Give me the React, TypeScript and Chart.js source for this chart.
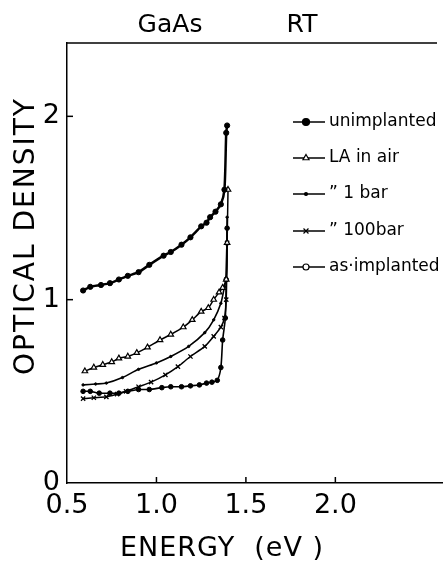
import React, { useEffect, useRef } from "react";
import { Chart, registerables } from "chart.js";
import { drawPoint } from "chart.js/helpers";

Chart.register(...registerables);

const FONT = '"DejaVu Sans", "Liberation Sans", sans-serif';

const xTickValues = [0.5, 1.0, 1.5, 2.0];
const yTickValues = [0, 1, 2];

const seriesLabels = ["unimplanted", "LA in air", "\u201D 1 bar", "\u201D 100bar", "as\u00B7implanted"];

const unimplantedX = [0.59, 0.63, 0.69, 0.74, 0.79, 0.84, 0.9, 0.96, 1.04, 1.08, 1.14, 1.19, 1.25, 1.28, 1.3, 1.33, 1.36, 1.38, 1.39, 1.395];
const unimplantedY = [1.05, 1.07, 1.08, 1.09, 1.11, 1.13, 1.15, 1.19, 1.24, 1.26, 1.3, 1.34, 1.4, 1.42, 1.45, 1.48, 1.52, 1.6, 1.91, 1.95];

const laAirX = [0.6, 0.65, 0.7, 0.75, 0.79, 0.84, 0.89, 0.95, 1.02, 1.08, 1.15, 1.2, 1.25, 1.29, 1.32, 1.35, 1.37, 1.39, 1.395, 1.4];
const laAirY = [0.61, 0.63, 0.645, 0.66, 0.68, 0.69, 0.71, 0.74, 0.78, 0.81, 0.85, 0.89, 0.935, 0.955, 1.0, 1.04, 1.065, 1.11, 1.31, 1.6];

const bar1X = [0.59, 0.66, 0.72, 0.81, 0.9, 1.0, 1.08, 1.18, 1.27, 1.32, 1.36, 1.38, 1.39, 1.395];
const bar1Y = [0.535, 0.54, 0.545, 0.575, 0.62, 0.655, 0.69, 0.745, 0.82, 0.89, 0.98, 1.07, 1.12, 1.45];

const bar100X = [0.59, 0.65, 0.72, 0.78, 0.83, 0.9, 0.97, 1.05, 1.12, 1.19, 1.27, 1.32, 1.36, 1.38, 1.39, 1.395];
const bar100Y = [0.46, 0.465, 0.47, 0.485, 0.5, 0.525, 0.55, 0.59, 0.635, 0.69, 0.745, 0.8, 0.85, 0.9, 1.0, 1.31];

const asImplX = [0.59, 0.63, 0.68, 0.74, 0.79, 0.84, 0.9, 0.96, 1.03, 1.08, 1.14, 1.19, 1.24, 1.28, 1.31, 1.34, 1.36, 1.37, 1.385, 1.39, 1.395];
const asImplY = [0.5, 0.5, 0.49, 0.49, 0.49, 0.5, 0.51, 0.51, 0.52, 0.525, 0.525, 0.53, 0.535, 0.545, 0.55, 0.56, 0.63, 0.78, 0.9, 1.11, 1.39];

const toPoints = (xs: number[], ys: number[]) => xs.map((x, i) => ({ x, y: ys[i] }));

const decorPlugin = {
  id: "decor",
  afterDraw(chart: any) {
    const { ctx, chartArea, scales } = chart;
    const xs = scales.x;
    const ys = scales.y;
    ctx.save();
    ctx.strokeStyle = "#000";
    ctx.fillStyle = "#000";
    ctx.lineWidth = 1.5;
    // top frame line
    ctx.beginPath();
    ctx.moveTo(chartArea.left, chartArea.top);
    ctx.lineTo(437, chartArea.top);
    ctx.stroke();
    // inward ticks
    for (const v of xTickValues.slice(1)) {
      const px = xs.getPixelForValue(v);
      ctx.beginPath();
      ctx.moveTo(px, chartArea.bottom);
      ctx.lineTo(px, chartArea.bottom - 6);
      ctx.stroke();
    }
    for (const v of yTickValues.slice(1)) {
      const py = ys.getPixelForValue(v);
      ctx.beginPath();
      ctx.moveTo(chartArea.left, py);
      ctx.lineTo(chartArea.left + 6, py);
      ctx.stroke();
    }
    // header
    ctx.font = `25px ${FONT}`;
    ctx.textAlign = "center";
    ctx.textBaseline = "middle";
    ctx.fillText("GaAs", 170, 25);
    ctx.fillText("RT", 302, 25);
    // x title
    ctx.save();
    ctx.font = `27px ${FONT}`;
    (ctx as any).letterSpacing = "1px";
    ctx.fillText("ENERGY  (eV )", 222, 549);
    ctx.restore();
    // y title
    ctx.save();
    ctx.translate(27, 236);
    ctx.rotate(-Math.PI / 2);
    ctx.font = `28px ${FONT}`;
    (ctx as any).letterSpacing = "2px";
    ctx.fillText("OPTICAL DENSITY", 0, 0);
    ctx.restore();
    // legend
    const rows = [122, 158, 194, 231, 267];
    ctx.font = `17px ${FONT}`;
    ctx.textAlign = "left";
    chart.data.datasets.forEach((ds: any, i: number) => {
      const y = rows[i];
      ctx.lineWidth = 1.5;
      ctx.strokeStyle = "#000";
      ctx.beginPath();
      ctx.moveTo(293, y);
      ctx.lineTo(325, y);
      ctx.stroke();
      ctx.fillStyle = ds.legendFill;
      ctx.strokeStyle = "#000";
      ctx.lineWidth = 1.2;
      drawPoint(ctx, { pointStyle: ds.pointStyle, radius: ds.legendRadius, rotation: 0, borderWidth: 1.2 }, 306, y);
      ctx.fillStyle = "#000";
      ctx.fillText(ds.label, 329, y);
    });
    ctx.restore();
  },
};

export default function App() {
  const canvasRef = useRef<HTMLCanvasElement | null>(null);

  useEffect(() => {
    const canvas = canvasRef.current;
    if (!canvas) return;
    const mk = (i: number, xs: number[], ys: number[], extra: any) => ({
      label: seriesLabels[i],
      data: toPoints(xs, ys),
      showLine: true,
      borderColor: "#000",
      pointBorderColor: "#000",
      tension: 0.25,
      ...extra,
    });
    const chart = new Chart(canvas, {
      type: "scatter",
      data: {
        datasets: [
          mk(0, unimplantedX, unimplantedY, {
            borderWidth: 2.5,
            pointStyle: "circle",
            pointRadius: 2.6,
            pointBackgroundColor: "#000",
            pointBorderWidth: 1,
            legendFill: "#000",
            legendRadius: 3.5,
          }),
          mk(1, laAirX, laAirY, {
            borderWidth: 1.5,
            pointStyle: "triangle",
            pointRadius: 3.2,
            pointBackgroundColor: "#fff",
            pointBorderWidth: 1.2,
            legendFill: "#fff",
            legendRadius: 3.5,
          }),
          mk(2, bar1X, bar1Y, {
            borderWidth: 1.6,
            pointStyle: "circle",
            pointRadius: 1.2,
            pointBackgroundColor: "#000",
            pointBorderWidth: 1,
            legendFill: "#000",
            legendRadius: 1.5,
          }),
          mk(3, bar100X, bar100Y, {
            borderWidth: 1.5,
            pointStyle: "crossRot",
            pointRadius: 3,
            pointBackgroundColor: "#000",
            pointBorderWidth: 1.3,
            legendFill: "#000",
            legendRadius: 3.5,
          }),
          mk(4, asImplX, asImplY, {
            borderWidth: 1.6,
            pointStyle: "circle",
            pointRadius: 2.3,
            pointBackgroundColor: "#000",
            pointBorderWidth: 1,
            legendFill: "#fff",
            legendRadius: 3,
          }),
        ],
      } as any,
      options: {
        animation: false,
        responsive: false,
        layout: { padding: { top: 43, right: 0, left: 0, bottom: 0 } },
        plugins: {
          legend: { display: false },
          tooltip: { enabled: false },
          title: { display: false },
        },
        scales: {
          x: {
            type: "linear",
            min: 0.5,
            max: 2.6,
            afterBuildTicks: (s: any) => {
              s.ticks = xTickValues.map((v) => ({ value: v }));
            },
            afterFit: (s: any) => {
              s.height = 82;
            },
            ticks: {
              callback: (v: any) => Number(v).toFixed(1),
              font: { family: FONT, size: 27 },
              color: "#000",
              padding: 7,
              maxRotation: 0,
              autoSkip: false,
            },
            grid: { display: false, drawTicks: false },
            border: { display: true, color: "#000", width: 1.5 },
            title: { display: false },
          },
          y: {
            type: "linear",
            min: 0,
            max: 2.4,
            afterBuildTicks: (s: any) => {
              s.ticks = yTickValues.map((v) => ({ value: v }));
            },
            afterFit: (s: any) => {
              s.width = 67;
            },
            ticks: {
              callback: (v: any) => String(v),
              font: { family: FONT, size: 27 },
              color: "#000",
              padding: 7,
              autoSkip: false,
            },
            grid: { display: false, drawTicks: false },
            border: { display: true, color: "#000", width: 1.5 },
          },
        },
      } as any,
      plugins: [decorPlugin],
    });
    return () => chart.destroy();
  }, []);

  return (
    <div style={{ position: "fixed", left: 0, top: 0, width: 448, height: 565, background: "#fff" }}>
      <canvas ref={canvasRef} width={448} height={565} style={{ display: "block" }} />
    </div>
  );
}
